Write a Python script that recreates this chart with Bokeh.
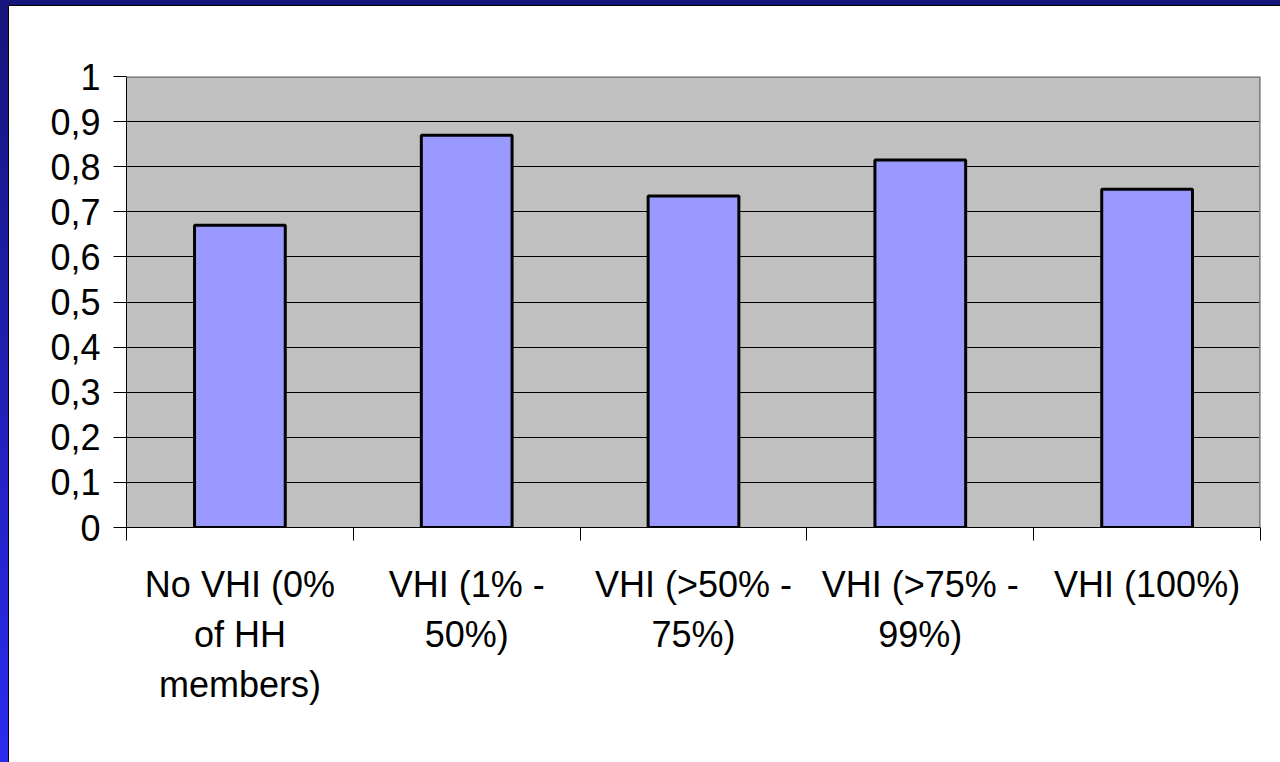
from bokeh.plotting import figure
from bokeh.models import Range1d, FixedTicker, LinearAxis, Span
from bokeh.embed import file_html
from bokeh.resources import INLINE

# ---- data ----
category_lines = [
    ["No VHI (0%", "of HH", "members)"],
    ["VHI (1% -", "50%)"],
    ["VHI (>50% -", "75%)"],
    ["VHI (>75% -", "99%)"],
    ["VHI (100%)"],
]
values = [0.67, 0.87, 0.735, 0.815, 0.75]
y_ticks = [0.0, 0.1, 0.2, 0.3, 0.4, 0.5, 0.6, 0.7, 0.8, 0.9, 1.0]
y_tick_labels = ["0", "0,1", "0,2", "0,3", "0,4", "0,5", "0,6", "0,7", "0,8", "0,9", "1"]

FONT = "Liberation Sans"
FS = "36px"

n = len(category_lines)
centers = [i + 0.5 for i in range(n)]
bounds = [float(i) for i in range(n + 1)]

p = figure(
    width=1280, height=762,
    x_range=Range1d(0, n), y_range=Range1d(0, 1),
    output_backend="svg", toolbar_location=None,
    min_border_left=126, min_border_right=20,
    min_border_top=76, min_border_bottom=235,
    background_fill_color="#C0C0C0",
    border_fill_alpha=0,
    outline_line_color=None,
)
p.styles = {
    "background": (
        "linear-gradient(#ffffff,#ffffff) 9px 6px / 100% 100% no-repeat, "
        "linear-gradient(#000000,#000000) 8px 5px / 100% 100% no-repeat, "
        "linear-gradient(to bottom, #15157a, #2b2bf0)"
    ),
}

p.vbar(x=centers, top=values, width=0.4, fill_color="#9999FF",
       line_color="black", line_width=3)

# grid
p.xgrid.visible = False
p.ygrid.ticker = FixedTicker(ticks=y_ticks)
p.ygrid.grid_line_color = "black"
p.ygrid.grid_line_width = 1

# frame top / right border
p.add_layout(Span(location=1, dimension="width", line_color="#808080", line_width=3))
p.add_layout(Span(location=n, dimension="height", line_color="#808080", line_width=3))

# y axis
ya = p.yaxis[0]
ya.ticker = FixedTicker(ticks=y_ticks)
ya.major_label_overrides = {t: l for t, l in zip(y_ticks, y_tick_labels)}
ya.major_tick_out = 13
ya.major_tick_in = 0
ya.minor_tick_line_color = None
ya.axis_line_color = "black"
ya.major_tick_line_color = "black"
ya.major_label_standoff = 13
ya.major_label_text_font = FONT
ya.major_label_text_font_size = FS
ya.major_label_text_color = "black"

# x axis: tick marks at category boundaries
xa = p.xaxis[0]
xa.ticker = FixedTicker(ticks=bounds)
xa.major_label_overrides = {b: "" for b in bounds}
xa.major_tick_out = 13
xa.major_tick_in = 0
xa.minor_tick_line_color = None
xa.axis_line_color = "black"
xa.major_tick_line_color = "black"
xa.major_label_text_font_size = "1px"
xa.major_label_standoff = 0

# label rows
max_lines = max(len(c) for c in category_lines)
standoffs = [23, 6, 6]
for row in range(max_lines):
    ax = LinearAxis(
        ticker=FixedTicker(ticks=centers),
        major_label_overrides={
            c: (lines[row] if row < len(lines) else "")
            for c, lines in zip(centers, category_lines)
        },
        axis_line_color=None,
        major_tick_line_color=None,
        minor_tick_line_color=None,
        major_tick_out=0, major_tick_in=0,
        major_label_standoff=standoffs[row],
        major_label_text_font=FONT,
        major_label_text_font_size=FS,
        major_label_text_color="black",
    )
    p.add_layout(ax, "below")

open("out.html", "w").write(file_html(p, INLINE))
